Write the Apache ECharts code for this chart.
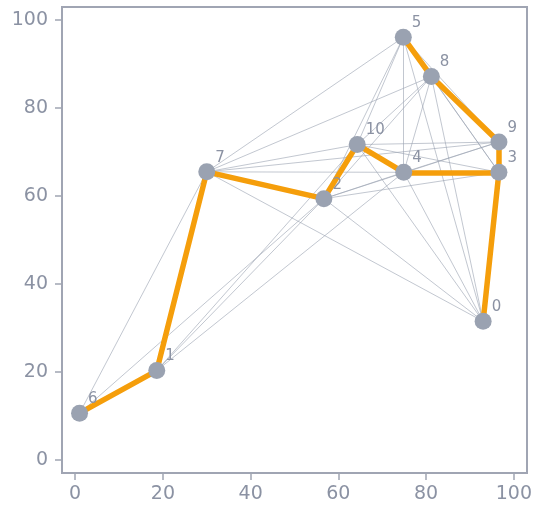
<!DOCTYPE html>
<html>
<head>
<meta charset="utf-8">
<script src="https://cdn.jsdelivr.net/npm/echarts@6/dist/echarts.min.js"></script>
<style>
html,body{margin:0;padding:0;background:#fff;}
#chart{width:542px;height:516px;}
</style>
</head>
<body>
<div id="chart"></div>
<script>
// Node labels and coordinates
const nodeNames = ['0','1','2','3','4','5','6','7','8','9','10'];
const nodeX = [93.0, 18.6, 56.7, 96.6, 74.9, 74.8, 1.0, 30.0, 81.2, 96.6, 64.3];
const nodeY = [31.5, 20.3, 59.4, 65.4, 65.4, 96.1, 10.6, 65.5, 87.2, 72.3, 71.7];

// Highlighted (orange) path edges
const pathEdges = [[6,1],[1,7],[7,2],[2,10],[10,4],[4,3],[3,9],[9,8],[8,5],[3,0]];

// Other (grey) edges
const otherEdges = [
  [6,7],[6,2],
  [1,10],[1,2],[1,4],
  [7,5],[7,8],[7,10],[7,9],[7,4],[7,0],
  [2,4],[2,9],[2,3],[2,8],[2,0],[2,5],
  [10,9],[10,3],[10,0],[10,5],[10,8],
  [4,5],[4,8],[4,9],[4,0],
  [5,9],[5,0],[5,3],
  [8,3],[8,0]
];

// Axis tick values
const tickValues = [0, 20, 40, 60, 80, 100];

const axisColor = '#a0a5b3';
const textColor = '#8b92a3';

function edgeData(list) {
  return list.map(([a, b]) => ({ coords: [[nodeX[a], nodeY[a]], [nodeX[b], nodeY[b]]] }));
}

const chart = echarts.init(document.getElementById('chart'), null, { renderer: 'canvas' });

const axisCommon = {
  type: 'value',
  min: -3,
  max: 103,
  axisLine: { show: true, onZero: false, lineStyle: { color: axisColor, width: 2 } },
  axisTick: { show: true, length: 7, customValues: tickValues, lineStyle: { color: axisColor, width: 1.5 } },
  axisLabel: { customValues: tickValues, color: textColor, fontSize: 19, fontFamily: 'DejaVu Sans' },
  splitLine: { show: false }
};

chart.setOption({
  animation: false,
  backgroundColor: '#ffffff',
  grid: { left: 62, right: 15, top: 7, bottom: 43, show: true, borderColor: axisColor, borderWidth: 2 },
  xAxis: Object.assign({}, axisCommon, { axisLabel: Object.assign({}, axisCommon.axisLabel, { margin: 12 }) }),
  yAxis: Object.assign({}, axisCommon, { axisLabel: Object.assign({}, axisCommon.axisLabel, { margin: 14 }) }),
  series: [
    {
      type: 'lines',
      coordinateSystem: 'cartesian2d',
      z: 1,
      silent: true,
      lineStyle: { color: '#9aa1b1', width: 1, opacity: 0.6 },
      data: edgeData(otherEdges)
    },
    {
      type: 'lines',
      coordinateSystem: 'cartesian2d',
      z: 2,
      silent: true,
      lineStyle: { color: '#f59e0b', width: 5.5, opacity: 1, cap: 'round', join: 'round' },
      data: edgeData(pathEdges)
    },
    {
      type: 'scatter',
      z: 3,
      symbol: 'circle',
      symbolSize: 17,
      itemStyle: { color: '#9aa2b1', opacity: 1 },
      label: {
        show: true,
        position: 'right',
        distance: 0,
        offset: [0, -14],
        color: textColor,
        fontSize: 15,
        fontFamily: 'DejaVu Sans',
        formatter: p => nodeNames[p.dataIndex]
      },
      data: nodeX.map((x, i) => [x, nodeY[i]])
    }
  ]
});
</script>
</body>
</html>
